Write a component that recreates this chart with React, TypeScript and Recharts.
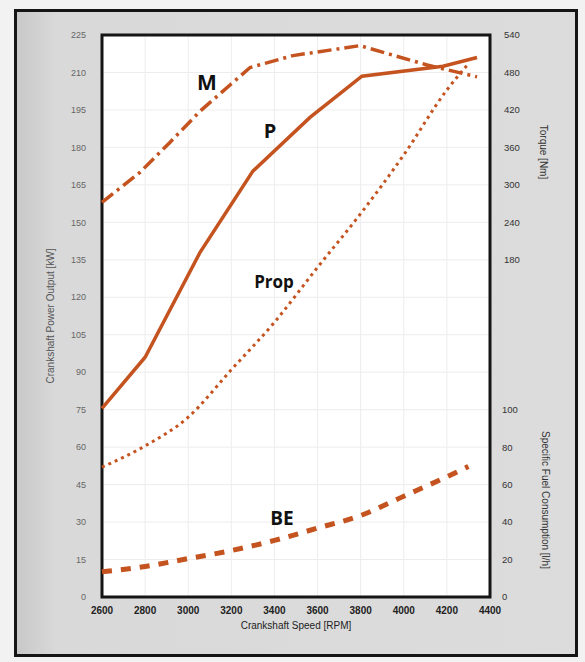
import { LineChart, Line, XAxis, YAxis, CartesianGrid, ReferenceArea } from "recharts";

const RED = "#c4531f";
const FONT = "'Liberation Sans', Arial, sans-serif";

// axis ticks
const rpmTicks = [2600, 2800, 3000, 3200, 3400, 3600, 3800, 4000, 4200, 4400];
const powerTicks = [0, 15, 30, 45, 60, 75, 90, 105, 120, 135, 150, 165, 180, 195, 210, 225];
const torqueTicks = [180, 240, 300, 360, 420, 480, 540];
const sfcTicks = [0, 20, 40, 60, 80, 100];

// M - torque [Nm]
const mRpm = [2600, 2776, 2915, 3055, 3194, 3287, 3486, 3797, 4108, 4340];
const mTorque = [272, 320, 368, 418, 460, 488, 507, 523, 492, 473];

// P - power [kW]
const pRpm = [2600, 2800, 3055, 3300, 3565, 3806, 4182, 4340];
const pPower = [75.5, 96, 138, 170.5, 192, 208.5, 212.5, 216];

// Prop - propeller curve [kW]
const propRpm = [2600, 2800, 3000, 3200, 3400, 3600, 3800, 4000, 4200, 4300];
const propPower = [52, 60.5, 72, 91, 110, 132, 153.5, 177, 203, 213.5];

// BE - fuel consumption
const beRpm = [2600, 2800, 3000, 3200, 3400, 3600, 3800, 4000, 4200, 4300];
const beSfc = [13.5, 16.3, 20.5, 24.8, 30.2, 36.8, 43.5, 53.8, 64.2, 69.7];

const toData = (xs: number[], ys: number[]) => xs.map((rpm, i) => ({ rpm, value: ys[i] }));

const mData = toData(mRpm, mTorque);
const pData = toData(pRpm, pPower);
const propData = toData(propRpm, propPower);
const beData = toData(beRpm, beSfc);

const tag = (text: string, x: number, y: number, size: number, rotate = 0, extra: any = {}) => (
  <div
    style={{
      position: "absolute",
      left: x,
      top: y,
      transform: `translate(-50%, -50%) rotate(${rotate}deg)`,
      whiteSpace: "nowrap",
      fontSize: size,
      lineHeight: 1,
      ...extra,
    }}
  >
    {text}
  </div>
);

export default function App() {
  const inline = { fontFamily: "'Open Sans', sans-serif", fontWeight: 700, color: "#111" };
  const title = { fontFamily: FONT, color: "#333" };
  const rightTick = { fontSize: 9.5, fill: "#333", fontFamily: FONT };

  return (
    <div style={{ position: "absolute", left: 0, top: 0, width: 585, height: 662, background: "#f2f2f2", overflow: "hidden" }}>
      <div
        style={{
          position: "absolute",
          left: 14,
          top: 9,
          width: 564,
          height: 648,
          boxSizing: "border-box",
          border: "3px solid #151515",
          background: "linear-gradient(90deg, #c8c8c8 0%, #d9d9d9 7%, #dcdcdc 100%)",
        }}
      />
      <div style={{ position: "absolute", left: 0, top: 0 }}>
        <LineChart width={585} height={662} margin={{ top: 35, right: 93, bottom: 29, left: 42 }}>
          <CartesianGrid yAxisId="power" fill="#ffffff" stroke="#ededed" strokeWidth={1} />
          <XAxis
            dataKey="rpm"
            type="number"
            domain={[2600, 4400]}
            ticks={rpmTicks}
            interval={0}
            height={36}
            tickLine={false}
            axisLine={false}
            tickSize={0}
            tickMargin={10}
            tick={{ fontSize: 10, fontWeight: 700, fill: "#222", fontFamily: FONT }}
            label={{
              value: "Crankshaft Speed [RPM]",
              position: "insideBottom",
              offset: 4,
              style: { fontSize: 10, fill: "#222", fontFamily: FONT },
            }}
          />
          <YAxis
            yAxisId="power"
            width={60}
            domain={[0, 225]}
            ticks={powerTicks}
            interval={0}
            tickLine={false}
            axisLine={false}
            tickSize={0}
            tickMargin={16}
            tick={{ fontSize: 9, fill: "#666", fontFamily: FONT }}
            label={{
              value: "Crankshaft Power Output [kW]",
              angle: -90,
              position: "insideLeft",
              offset: 8,
              style: { textAnchor: "middle", fontSize: 10, fill: "#555", fontFamily: FONT },
            }}
          />
          <YAxis
            yAxisId="torque"
            orientation="right"
            width={1}
            domain={[-360, 540]}
            ticks={torqueTicks}
            interval={0}
            tickLine={false}
            axisLine={false}
            tickSize={0}
            tickMargin={13}
            tick={rightTick}
          />
          <YAxis
            yAxisId="sfc"
            orientation="right"
            width={1}
            domain={[0, 300]}
            ticks={sfcTicks}
            interval={0}
            tickLine={false}
            axisLine={false}
            tickSize={0}
            tickMargin={12}
            tick={rightTick}
          />
          <ReferenceArea
            yAxisId="power"
            x1={2600}
            x2={4400}
            y1={0}
            y2={225}
            fill="none"
            fillOpacity={0}
            stroke="#151515"
            strokeWidth={3}
          />
          <Line
            yAxisId="torque"
            data={mData}
            dataKey="value"
            type="linear"
            stroke={RED}
            strokeWidth={3.5}
            strokeDasharray="14 5 3 5"
            dot={false}
            isAnimationActive={false}
          />
          <Line
            yAxisId="power"
            data={pData}
            dataKey="value"
            type="linear"
            stroke={RED}
            strokeWidth={3.5}
            dot={false}
            isAnimationActive={false}
          />
          <Line
            yAxisId="power"
            data={propData}
            dataKey="value"
            type="monotone"
            stroke={RED}
            strokeWidth={3}
            strokeDasharray="3 4"
            dot={false}
            isAnimationActive={false}
          />
          <Line
            yAxisId="sfc"
            data={beData}
            dataKey="value"
            type="monotone"
            stroke={RED}
            strokeWidth={5}
            strokeDasharray="10 9"
            dot={false}
            isAnimationActive={false}
          />
        </LineChart>
      </div>
      {tag("Torque [Nm]", 543, 152, 10, 90, title)}
      {tag("Specific Fuel Consumption [l/h]", 545, 500, 10, 90, title)}
      {tag("M", 207, 82, 21, 0, inline)}
      {tag("P", 270, 131, 20, 0, inline)}
      {tag("Prop", 274, 281, 17, 0, inline)}
      {tag("BE", 282, 518, 19, 0, inline)}
    </div>
  );
}
